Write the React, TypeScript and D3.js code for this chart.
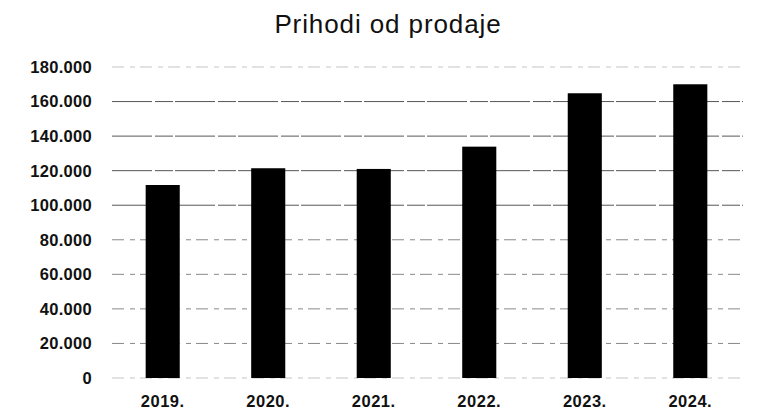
import React from "react";
import * as d3 from "d3";

// podaci očitani sa slike
const years = ["2019.", "2020.", "2021.", "2022.", "2023.", "2024."];
const revenue = [111700, 121400, 121000, 133900, 164800, 170000];
const yTicks = [0, 20000, 40000, 60000, 80000, 100000, 120000, 140000, 160000, 180000];
const chartTitle = "Prihodi od prodaje";

const W = 764;
const H = 411;
const margin = { top: 67, right: 21, bottom: 33, left: 110 };

// 180.000 format (tačka kao separator hiljada)
const fmt = (v: number) => (v === 0 ? "0" : d3.format(",")(v).replace(/,/g, "."));

export default function App() {
    const x = d3.scaleBand<string>()
        .domain(years)
        .range([margin.left, W - margin.right])
        .paddingInner(0.677)
        .paddingOuter(0.338);

    const y = d3.scaleLinear()
        .domain([0, 180000])
        .range([H - margin.bottom, margin.top]);

    return (
        <svg width={W} height={H} style={{ position: "absolute", left: 0, top: 0, background: "#fff" }}>
            {/* naslov */}
            <text x={388} y={33} textAnchor="middle" fontFamily="Liberation Sans, Arial, sans-serif" fontSize={26}
                letterSpacing={0.9} fill="#111">
                {chartTitle}
            </text>

            {/* mreža */}
            {yTicks.map((t) => (
                <line key={"g" + t}
                    x1={margin.left + 2} x2={W - margin.right}
                    y1={y(t)} y2={y(t)}
                    stroke="#3a3a3a"
                    strokeWidth={1}
                    strokeOpacity={t === 0 || t === 180000 ? 0.3 : t >= 100000 ? 0.85 : 0.6}
                    strokeDasharray={t >= 100000 && t < 180000 ? "40 3 18 2" : "12 6 5 5"} />
            ))}

            {/* oznake y ose */}
            {yTicks.map((t) => (
                <text key={"y" + t} x={92} y={y(t)} dy="0.36em" textAnchor="end"
                    fontFamily="Liberation Sans, Arial, sans-serif" fontWeight="bold" fontSize={16.5}
                    letterSpacing={0.3} fill="#111">
                    {fmt(t)}
                </text>
            ))}

            {/* stubići */}
            {years.map((yr, i) => (
                <rect key={yr}
                    x={x(yr)!} width={x.bandwidth()}
                    y={y(revenue[i])} height={y(0) - y(revenue[i])}
                    fill="#000" />
            ))}

            {/* oznake x ose */}
            {years.map((yr) => (
                <text key={"x" + yr} x={x(yr)! + x.bandwidth() / 2} y={407} textAnchor="middle"
                    fontFamily="Liberation Sans, Arial, sans-serif" fontWeight="bold" fontSize={16.5}
                    letterSpacing={0.5} fill="#111">
                    {yr}
                </text>
            ))}
        </svg>
    );
}
